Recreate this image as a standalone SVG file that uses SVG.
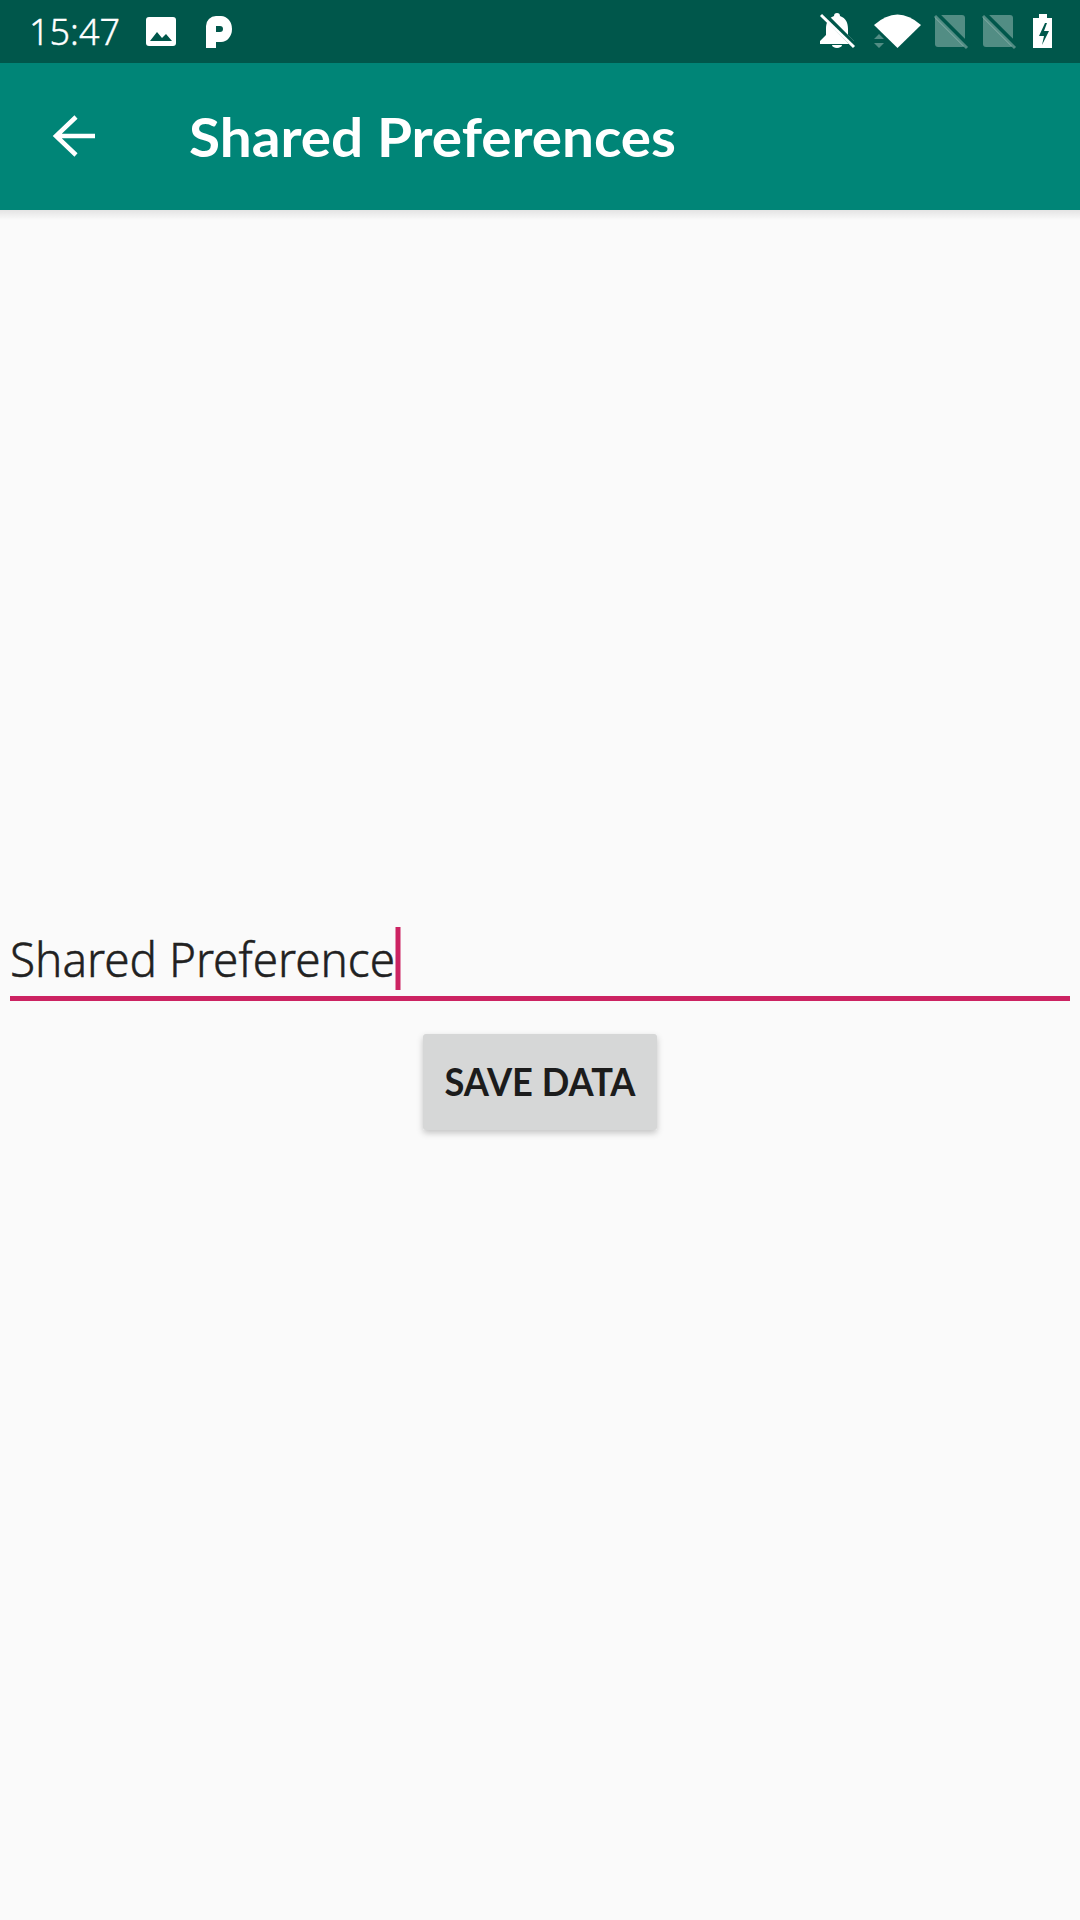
<svg xmlns="http://www.w3.org/2000/svg" width="1080" height="1920" viewBox="0 0 1080 1920">
<style>
.sans{font-family:"Noto Sans","Open Sans","Liberation Sans",sans-serif}
.bold{font-family:Lato,"Noto Sans","Liberation Sans",sans-serif;font-weight:700}
.ico{fill:#fff}
.dim{fill:#fff;fill-opacity:.32}
.cut{stroke:#00574B;stroke-width:6;fill:none}
.slash{stroke:#fff;stroke-width:3;fill:none}
</style>
<defs>
<linearGradient id="sh" x1="0" y1="0" x2="0" y2="1"><stop offset="0" stop-color="#000" stop-opacity=".09"/><stop offset="1" stop-color="#000" stop-opacity="0"/></linearGradient>
<filter id="bs" x="-10%" y="-10%" width="120%" height="125%"><feDropShadow dx="0" dy="3" stdDeviation="3" flood-color="#000" flood-opacity=".22"/></filter>
</defs>
<rect width="1080" height="1920" fill="#FAFAFA"/>
<g id="status-bar">
<rect width="1080" height="63" fill="#00574B"/>
<text x="29" y="45" class="sans" font-size="37" font-weight="300" fill="#fff" stroke="#fff" stroke-width=".4" textLength="91" lengthAdjust="spacingAndGlyphs">15:47</text>
<g id="image-icon"><rect x="146" y="17" width="30" height="29" rx="3" class="ico"/><path d="M150 41l7-9 5 6 4-4 6 7z" fill="#00574B"/></g>
<path id="p-icon" d="M206 26a10 10 0 0 1 10-10h5a11 13 0 0 1 0 26h-5v6h-10z M216 26v6h4a3 3 0 0 0 0-6z" class="ico" fill-rule="evenodd"/>
<g id="bell-icon"><path d="M837 13c-2 0-3 1-3 3c-6 2-8 7-8 13v6l-6 6v3h34v-3l-6-6v-6c0-6-2-11-8-13c0-2-1-3-3-3z M832 45h10a5 3 0 0 1-10 0z" class="ico"/><path d="M822.500 13.500l33 33" class="cut"/><path d="M821 15l33 32" class="slash"/></g>
<g id="wifi-icon"><path d="M874 25Q897.500 4 921 25L897.500 48z" class="ico"/><path d="M879 34l5 5h-10z M879 48l5-5h-10z" class="dim"/></g>
<g id="sim-1"><path d="M938 15h24a3 3 0 0 1 3 3v26a3 3 0 0 1-3 3h-24a3 3 0 0 1-3-3v-26a3 3 0 0 1 3-3z" class="dim"/><path d="M936.500 14.500l32 32" class="cut"/><path d="M935 16l32 32" class="slash" style="stroke-opacity:.32"/></g>
<g id="sim-2"><path d="M986 15h24a3 3 0 0 1 3 3v26a3 3 0 0 1-3 3h-24a3 3 0 0 1-3-3v-26a3 3 0 0 1 3-3z" class="dim"/><path d="M984.500 14.500l32 32" class="cut"/><path d="M983 16l32 32" class="slash" style="stroke-opacity:.32"/></g>
<g id="battery-icon"><path d="M1039 14h8v4h5v30h-19v-30h6z" class="ico"/><path d="M1045 23l-6 13h5l-2 9 7-14h-5l3-8z" fill="#00574B"/></g>
</g>
<g id="app-bar">
<rect y="210" width="1080" height="10" fill="url(#sh)"/>
<rect y="63" width="1080" height="147" fill="#008577"/>
<path d="M95 136H56M76 117L56 136L76 155" fill="none" stroke="#fff" stroke-width="4.500"/>
<text x="189" y="157" class="bold" font-size="53" fill="#fff" textLength="487" lengthAdjust="spacingAndGlyphs">Shared Preferences</text>
</g>
<g id="text-field">
<text x="10" y="977" class="sans" font-size="48" font-weight="300" fill="#212121" stroke="#212121" stroke-width=".5" textLength="385" lengthAdjust="spacingAndGlyphs">Shared Preference</text>
<rect x="395.500" y="927" width="5" height="63" fill="#CC2362"/>
<rect x="10" y="996" width="1060" height="5" fill="#CC2362"/>
</g>
<g id="save-button">
<rect x="423" y="1034" width="234" height="96" rx="3" fill="#D6D7D7" filter="url(#bs)"/>
<text x="540" y="1096" class="bold" font-size="38" fill="#1c1c1c" text-anchor="middle" textLength="191" lengthAdjust="spacingAndGlyphs">SAVE DATA</text>
</g>
<g id="connectors"/>
</svg>
